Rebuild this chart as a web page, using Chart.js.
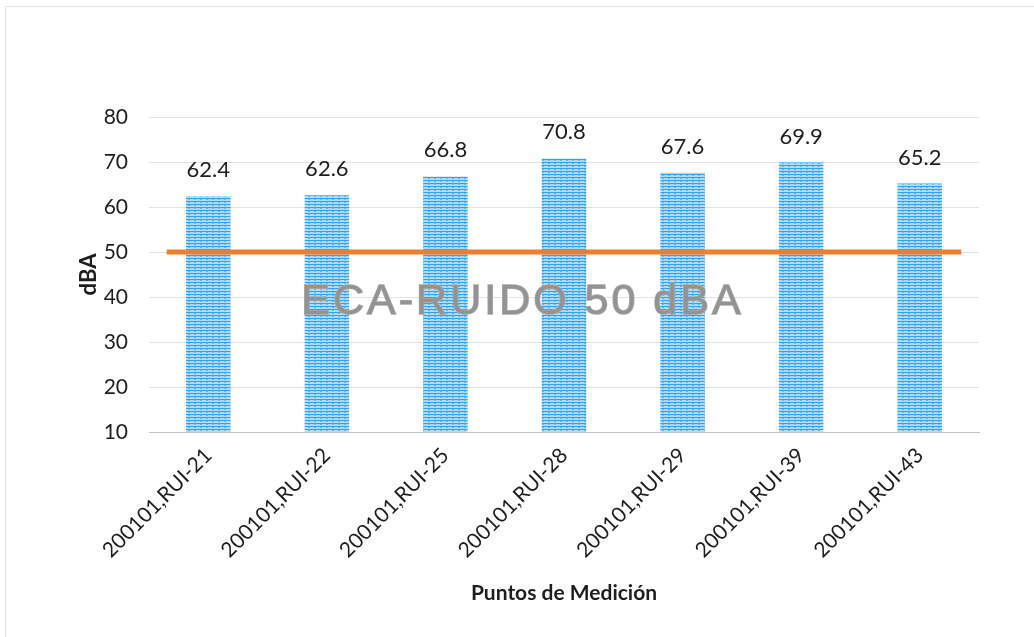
<!DOCTYPE html>
<html>
<head>
<meta charset="utf-8">
<script src="https://cdn.jsdelivr.net/npm/chart.js@4.4.1/dist/chart.umd.min.js"></script>
<style>
  html, body { margin: 0; padding: 0; background: #ffffff; }
  #wrap { width: 1034px; height: 637px; position: relative; }
</style>
</head>
<body>
<div id="wrap"><canvas id="c" width="1034" height="637"></canvas></div>
<script>
// ---- data ----
const categories = ['200101,RUI-21', '200101,RUI-22', '200101,RUI-25', '200101,RUI-28', '200101,RUI-29', '200101,RUI-39', '200101,RUI-43'];
const noiseValues = [62.4, 62.6, 66.8, 70.8, 67.6, 69.9, 65.2];
const ecaLimit = [50, 50];
const ecaLabel = 'ECA-RUIDO 50 dBA';
const yTicks = [10, 20, 30, 40, 50, 60, 70, 80];
const xTitle = 'Puntos de Medición';
const yTitle = 'dBA';

// striped blue fill pattern
function makePattern() {
  const p = document.createElement('canvas');
  p.width = 6; p.height = 3;
  const g = p.getContext('2d');
  g.fillStyle = '#aedcf6';
  g.fillRect(0, 0, 6, 3);
  g.fillStyle = '#33a2ea';
  g.fillRect(0, 0, 6, 1);
  g.fillStyle = '#66bdf0';
  g.fillRect(2, 1, 2, 1);
  return document.getElementById('c').getContext('2d').createPattern(p, 'repeat');
}

const framePlugin = {
  id: 'frame',
  beforeDraw(chart) {
    const ctx = chart.ctx;
    ctx.save();
    ctx.fillStyle = '#ffffff';
    ctx.fillRect(0, 0, chart.width, chart.height);
    ctx.strokeStyle = '#e2e2e2';
    ctx.lineWidth = 1;
    ctx.beginPath();
    ctx.moveTo(5.5, 637);
    ctx.lineTo(5.5, 6.5);
    ctx.lineTo(1034, 6.5);
    ctx.stroke();
    ctx.restore();
  }
};

const labelsPlugin = {
  id: 'valueLabels',
  afterDatasetsDraw(chart) {
    const ctx = chart.ctx;
    const meta = chart.getDatasetMeta(0);
    ctx.save();
    ctx.font = '22px Lato';
    ctx.fillStyle = '#1e1e1e';
    ctx.textAlign = 'center';
    ctx.textBaseline = 'middle';
    meta.data.forEach((bar, i) => {
      ctx.fillText(noiseValues[i].toFixed(1), bar.x, bar.y - 26);
    });
    // watermark-like ECA label
    const ys = chart.scales.y;
    const ca = chart.chartArea;
    const cx = ca.left + 0.45 * (ca.right - ca.left);
    const cy = ys.getPixelForValue(38.8);
    ctx.font = '43px "Liberation Sans"';
    ctx.letterSpacing = '3px';
    ctx.textAlign = 'center';
    ctx.textBaseline = 'middle';
    ctx.lineWidth = 1.5;
    ctx.strokeStyle = '#ababab';
    ctx.fillStyle = '#939393';
    ctx.strokeText(ecaLabel, cx, cy);
    ctx.fillText(ecaLabel, cx, cy);
    ctx.restore();
  }
};

const barPoints = categories.map((c, i) => ({ x: i, y: noiseValues[i] }));

new Chart(document.getElementById('c'), {
  type: 'bar',
  data: {
    datasets: [
      {
        type: 'bar',
        label: 'dBA',
        data: barPoints,
        backgroundColor: makePattern(),
        borderWidth: 0,
        barPercentage: 0.375,
        categoryPercentage: 1.0,
        order: 2
      },
      {
        type: 'line',
        label: 'ECA',
        data: [{ x: -0.35, y: ecaLimit[0] }, { x: 6.35, y: ecaLimit[1] }],
        borderColor: '#ed7d31',
        borderWidth: 5,
        pointRadius: 0,
        fill: false,
        order: 0
      }
    ]
  },
  options: {
    responsive: false,
    animation: false,
    devicePixelRatio: 1,
    layout: { padding: { left: 70, right: 55, top: 117, bottom: 30 } },
    plugins: {
      legend: { display: false },
      tooltip: { enabled: false },
      title: { display: false }
    },
    scales: {
      x: {
        type: 'linear',
        offset: false,
        min: -0.5,
        max: 6.5,
        afterBuildTicks(scale) { scale.ticks = categories.map((c, i) => ({ value: i })); },
        grid: { display: false, drawTicks: false, offset: false },
        border: { display: true, color: '#c4c4c4', width: 1 },
        ticks: {
          autoSkip: false,
          minRotation: 45, maxRotation: 45,
          padding: 11,
          color: '#1e1e1e',
          font: { family: 'Lato', size: 21 },
          callback: (v) => categories[v]
        },
        title: {
          display: true,
          text: xTitle,
          color: '#1e1e1e',
          font: { family: 'Lato', size: 21, weight: 'bold' },
          padding: { top: 0, bottom: 1 }
        },
        afterFit(scale) { scale.height = 637 - 30 - 432; }
      },
      y: {
        min: 10,
        max: 80,
        afterBuildTicks(scale) { scale.ticks = yTicks.map(v => ({ value: v })); },
        grid: { color: '#e2e2e2', drawTicks: false },
        border: { display: false },
        ticks: {
          padding: 21,
          color: '#1e1e1e',
          font: { family: 'Lato', size: 21 }
        },
        title: {
          display: true,
          text: yTitle,
          color: '#1e1e1e',
          font: { family: 'Lato', size: 22, weight: 'bold' },
          padding: { top: 6, bottom: 0 }
        },
        afterFit(scale) { scale.width = 149 - 70; }
      }
    }
  },
  plugins: [framePlugin, labelsPlugin]
});
</script>
</body>
</html>
